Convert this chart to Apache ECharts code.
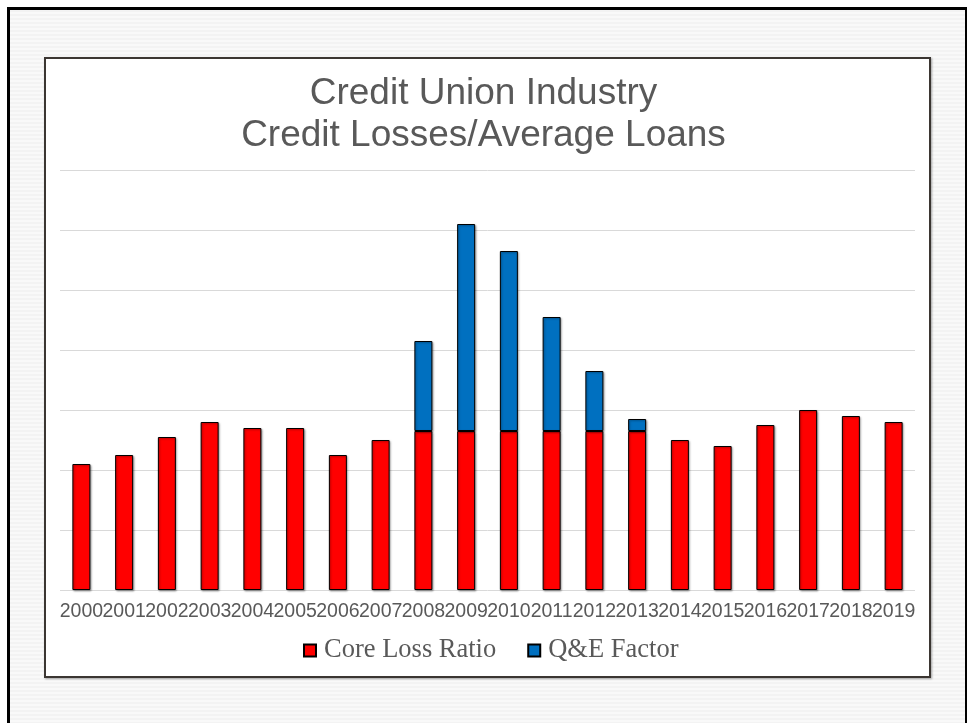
<!DOCTYPE html>
<html>
<head>
<meta charset="utf-8">
<script src="https://cdn.jsdelivr.net/npm/echarts@6/dist/echarts.min.js"></script>
<style>
  html, body { margin: 0; padding: 0; width: 967px; height: 723px; overflow: hidden; background: #fff; }
  .outer {
    position: absolute; left: 7px; top: 7px; width: 955px; height: 730px;
    border: 3px solid #000;
    background: repeating-linear-gradient(to bottom, #f3f3f3 0px, #f3f3f3 2px, #f9f9f9 2px, #f9f9f9 4px);
  }
  .inner {
    position: absolute; left: 44px; top: 57px; width: 883px; height: 617px;
    border: 2px solid #3b3632; background: #fff;
    box-shadow: 1px 1px 2px rgba(0,0,0,0.35);
  }
  #chart { position: absolute; left: 0; top: 0; width: 967px; height: 723px; }
</style>
</head>
<body>
<div class="outer"></div>
<div class="inner"></div>
<div id="chart"></div>
<script>
const years = ['2000', '2001', '2002', '2003', '2004', '2005', '2006', '2007', '2008', '2009',
  '2010', '2011', '2012', '2013', '2014', '2015', '2016', '2017', '2018', '2019']
// Core Loss Ratio (%)
const coreLoss = [0.42, 0.45, 0.51, 0.56, 0.54, 0.54, 0.45, 0.50, 0.53, 0.53,
  0.53, 0.53, 0.53, 0.53, 0.50, 0.48, 0.55, 0.60, 0.58, 0.56]
// Q&E Factor (%), only 2008-2013
const qeFactor = [null, null, null, null, null, null, null, null, 0.30, 0.69,
  0.60, 0.38, 0.20, 0.04, null, null, null, null, null, null]

const barStyle = (color) => ({
  color: color,
  borderColor: '#000',
  borderWidth: 1,
  shadowColor: 'rgba(0,0,0,0.35)',
  shadowBlur: 2,
  shadowOffsetX: 1,
  shadowOffsetY: 1
})

let option = {
  animation: false,
  title: {
    text: 'Credit Union Industry\nCredit Losses/Average Loans',
    left: 'center',
    top: 68,
    textStyle: {
      fontFamily: 'Liberation Sans, Arial, sans-serif',
      fontSize: 37,
      fontWeight: 'normal',
      lineHeight: 42,
      color: '#595959'
    }
  },
  grid: { left: 60, right: 52, top: 170, bottom: 133 },
  legend: {
    data: ['Core Loss Ratio', 'Q&E Factor'],
    bottom: 54,
    left: 298,
    icon: 'rect',
    itemWidth: 12,
    itemHeight: 12,
    itemGap: 31,
    textStyle: {
      fontFamily: 'Liberation Serif, Times New Roman, serif',
      fontSize: 26.5,
      color: '#595959',
      padding: [0, 0, 0, 3]
    }
  },
  xAxis: {
    type: 'category',
    data: years,
    axisTick: { show: false },
    axisLine: { show: false },
    axisLabel: {
      interval: 0,
      margin: 12,
      fontFamily: 'Liberation Sans, Arial, sans-serif',
      fontSize: 19.5,
      color: '#595959'
    }
  },
  yAxis: {
    type: 'value',
    min: 0,
    max: 1.4,
    interval: 0.2,
    axisLabel: { show: false },
    axisLine: { show: false },
    axisTick: { show: false },
    splitLine: { lineStyle: { color: '#d9d9d9', width: 1 } }
  },
  series: [
    {
      name: 'Core Loss Ratio',
      type: 'bar',
      stack: 'loss',
      barWidth: 18,
      itemStyle: barStyle('#ff0000'),
      data: coreLoss
    },
    {
      name: 'Q&E Factor',
      type: 'bar',
      stack: 'loss',
      barWidth: 18,
      itemStyle: barStyle('#0070c0'),
      data: qeFactor
    }
  ]
}

var myChart = echarts.init(document.getElementById('chart'))
myChart.setOption(option)
</script>
</body>
</html>
